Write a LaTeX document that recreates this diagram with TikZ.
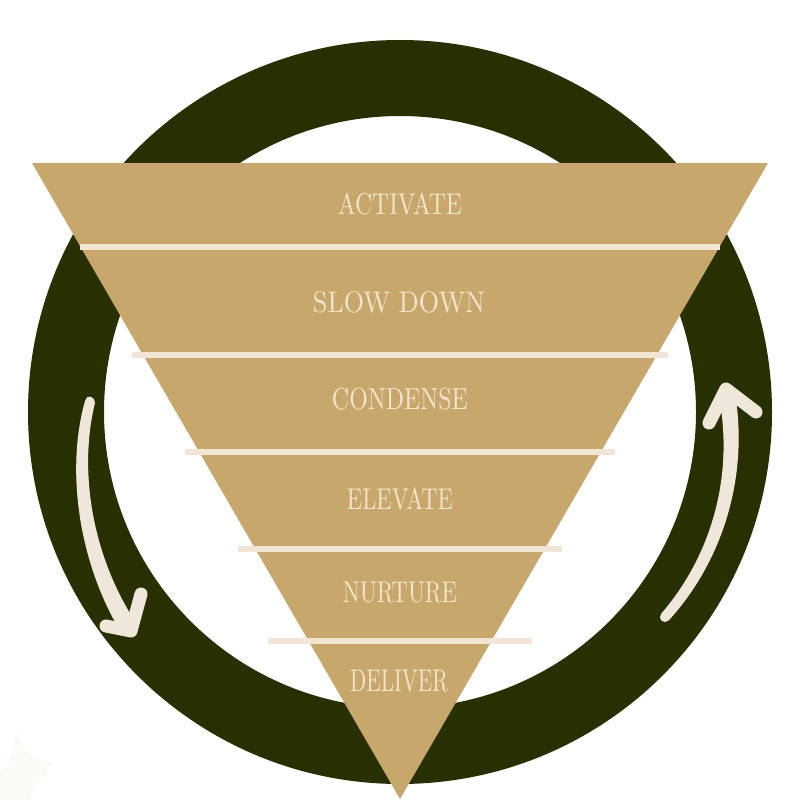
\documentclass[tikz,border=0pt]{standalone}
\usepackage{graphicx}
\definecolor{ringc}{HTML}{283002}
\definecolor{gold}{HTML}{C7A76C}
\definecolor{cream}{HTML}{F1E6D6}
\definecolor{txt}{HTML}{F4E4CC}
\definecolor{arrowc}{HTML}{EEE7DA}
\definecolor{faint}{HTML}{FBFAF6}
\begin{document}
\begin{tikzpicture}[x=1bp,y=-1bp,
  sep/.style={draw=cream, line width=6bp},
  lbl/.style={inner sep=0pt, text=txt},
  body/.style={fill=arrowc, draw=arrowc, line width=1bp, line join=round},
  barb/.style={draw=arrowc, line width=13bp, line cap=round, line join=round}]
\useasboundingbox (0,0) rectangle (800,800);
\fill[white] (0,0) rectangle (800,800);
% faint shape bottom left
\fill[faint] (0,800) -- (0,772) .. controls (10,762) .. (17,730) .. controls (22,752) and (35,760) .. (53,762) -- (28,800) -- cycle;
% ring
\fill[ringc, even odd rule] (400,412) circle[radius=372] (400,412) circle[radius=296];
% funnel
\fill[gold] (32,163) -- (768,163) -- (400,799) -- cycle;
% separators
\draw[sep] (80,247) -- (720,247);
\draw[sep] (132,355) -- (668,355);
\draw[sep] (185,452) -- (615,452);
\draw[sep] (238,549) -- (562,549);
\draw[sep] (268,641) -- (532,641);
% labels
\node[lbl] (activate) at (400,204) {\resizebox{124bp}{21.5bp}{ACTIVATE}};
\node[lbl] (slowdown) at (399,302) {\resizebox{172bp}{21bp}{SLOW DOWN}};
\node[lbl] (condense) at (400,399) {\resizebox{136bp}{21.5bp}{CONDENSE}};
\node[lbl] (elevate) at (400,499) {\resizebox{106bp}{21.5bp}{ELEVATE}};
\node[lbl] (nurture) at (400,593) {\resizebox{114bp}{20.5bp}{NURTURE}};
\node[lbl] (deliver) at (399,681) {\resizebox{98bp}{21.5bp}{DELIVER}};
% left arrow (tapered body)
\path[body] (85.6,400.8) .. controls (66.3,468.5) and (78.2,562.1) .. (122.9,634.6)
  -- (137.1,625.4) .. controls (91.8,557.9) and (77.7,471.5) .. (94.4,403.2)
  .. controls (94,396) and (87,395) .. cycle;
\draw[barb] (141,594) -- (131,631) -- (106,626);
% right arrow (tapered body)
\path[body] (661.6,614) .. controls (715,552.1) and (735,469.3) .. (718.4,391.5)
  -- (733.6,388.5) .. controls (749,470.7) and (725,557.9) .. (668.4,620)
  .. controls (664,624) and (658,619) .. cycle;
\draw[barb] (709,423) -- (726,389) -- (756,412);
\end{tikzpicture}
\end{document}
